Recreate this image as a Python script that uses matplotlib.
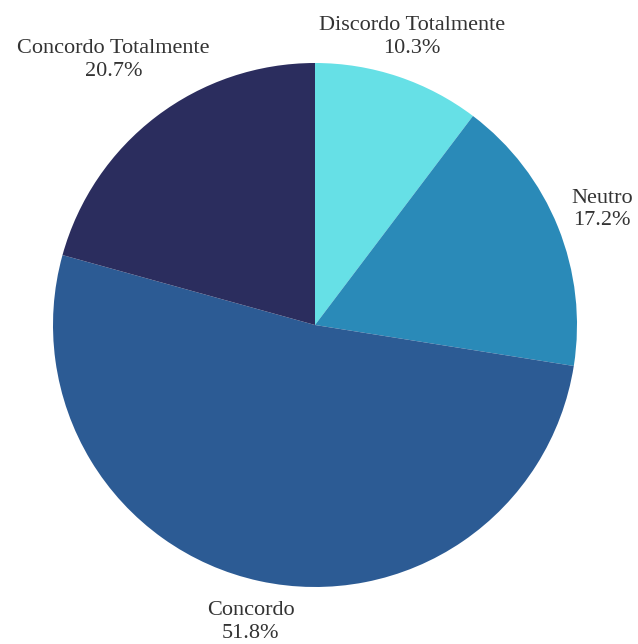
import numpy as np
import matplotlib
matplotlib.use("Agg")
import matplotlib.pyplot as plt

# Dados
categorias = ["Discordo Totalmente", "Neutro", "Concordo", "Concordo Totalmente"]
percentuais = [10.3, 17.2, 51.8, 20.7]
cores = ["#66E0E6", "#2A8AB8", "#2C5B94", "#2B2D5E"]

plt.rcParams["font.family"] = ["Liberation Serif", "DejaVu Serif"]

fig = plt.figure(figsize=(6.38, 6.44), dpi=100)
ax = fig.add_axes([0, 0, 1, 1])

cx, cy, r = 315, 319, 262
wedges, _ = ax.pie(percentuais, colors=cores, startangle=90, counterclock=False,
                   center=(cx, cy), radius=r, frame=True,
                   wedgeprops=dict(linewidth=0))
ax.set_xlim(0, 638)
ax.set_ylim(0, 644)
ax.set_aspect("equal")
ax.axis("off")

# distância dos rótulos (fator do raio)
dist = [1.16, 1.18, 1.16, 1.27]
for w, cat, p, d in zip(wedges, categorias, percentuais, dist):
    ang = np.deg2rad((w.theta1 + w.theta2) / 2)
    x = cx + d * r * np.cos(ang)
    y = cy + d * r * np.sin(ang)
    ax.text(x, y, f"{cat}\n{p:.1f}%", ha="center", va="center",
            fontsize=16, color="#333333", linespacing=1.25)

fig.savefig("out.png", dpi=100, facecolor="white")
